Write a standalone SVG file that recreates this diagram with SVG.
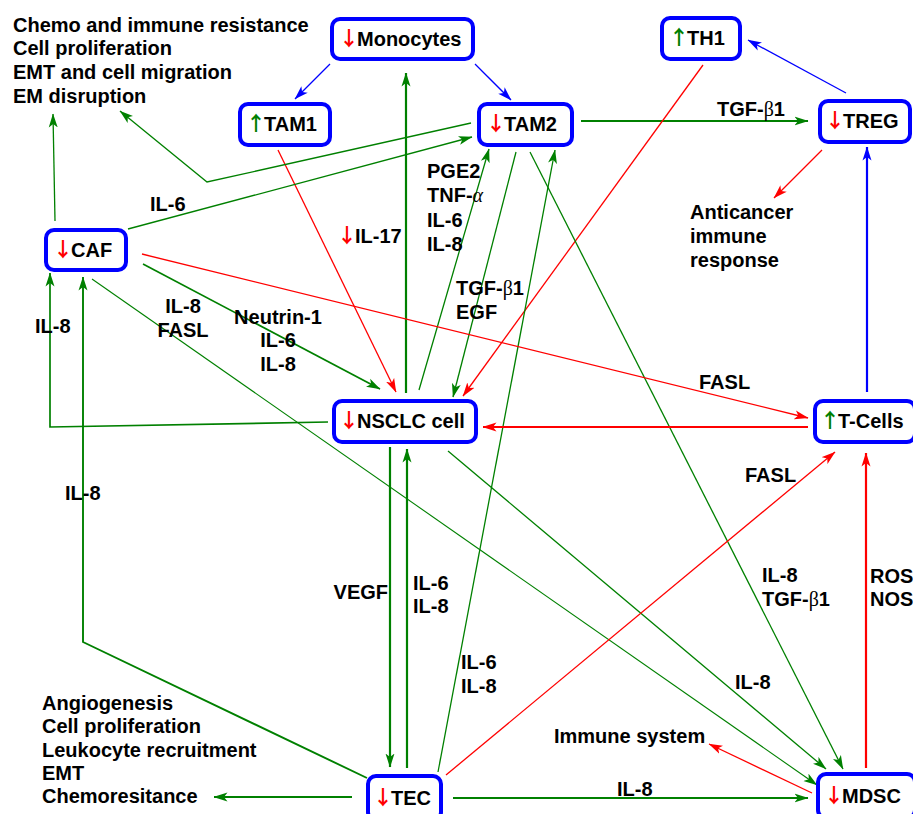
<svg xmlns="http://www.w3.org/2000/svg" width="913" height="814" viewBox="0 0 913 814">
<style>
.n{fill:#fff;stroke:#0000ff;stroke-width:4}
.t{font-family:"Liberation Sans",Arial,sans-serif;font-size:20px;font-weight:bold;fill:#000}
.m{text-anchor:middle}
.e{text-anchor:end}
.dn{fill:#ff0000;font-family:"Noto Sans CJK SC","DejaVu Sans",sans-serif}
.up{fill:#008000;font-family:"Noto Sans CJK SC","DejaVu Sans",sans-serif}
.gr{font-family:"Liberation Serif",serif;font-weight:normal}
.g{stroke:#008000;fill:none;stroke-width:1.3}
.gt{stroke:#008000;fill:none;stroke-width:2.2}
.r{stroke:#ff0000;fill:none;stroke-width:1.3}
.rt{stroke:#ff0000;fill:none;stroke-width:2.2}
.b{stroke:#0000ff;fill:none;stroke-width:1.3}
.bt{stroke:#0000ff;fill:none;stroke-width:2.2}
.mg{marker-end:url(#ag)}
.mr{marker-end:url(#ar)}
.mb{marker-end:url(#ab)}
</style>
<defs>
<marker id="ag" markerUnits="userSpaceOnUse" markerWidth="14" markerHeight="10" viewBox="0 0 14 10" refX="13.5" refY="5" orient="auto"><path d="M0,0.5 L14,5 L0,9.5 L3.5,5 z" fill="#008000"/></marker>
<marker id="ar" markerUnits="userSpaceOnUse" markerWidth="14" markerHeight="10" viewBox="0 0 14 10" refX="13.5" refY="5" orient="auto"><path d="M0,0.5 L14,5 L0,9.5 L3.5,5 z" fill="#ff0000"/></marker>
<marker id="ab" markerUnits="userSpaceOnUse" markerWidth="14" markerHeight="10" viewBox="0 0 14 10" refX="13.5" refY="5" orient="auto"><path d="M0,0.5 L14,5 L0,9.5 L3.5,5 z" fill="#0000ff"/></marker>
</defs>
<rect width="913" height="814" fill="#fff"/>

<g id="connectors">
<line class="b mb" x1="330" y1="64" x2="295" y2="99"/>
<line class="b mb" x1="475" y1="64" x2="511" y2="100"/>
<line class="b mb" x1="846" y1="93" x2="748" y2="40"/>
<line class="bt mb" x1="867" y1="392" x2="867" y2="147"/>
<line class="gt mg" x1="581" y1="121" x2="808" y2="121"/>
<line class="r mr" x1="822" y1="150" x2="774" y2="198"/>
<line class="r mr" x1="703" y1="65" x2="463" y2="396"/>
<line class="r mr" x1="278" y1="150" x2="396" y2="392"/>
<line class="gt mg" x1="406" y1="393" x2="406" y2="73"/>
<line class="g mg" x1="419" y1="390" x2="489" y2="149"/>
<line class="g mg" x1="516" y1="152" x2="453" y2="397"/>
<line class="g mg" x1="438" y1="772" x2="555" y2="150"/>
<line class="g mg" x1="530" y1="152" x2="843" y2="769"/>
<polyline class="g mg" points="471,123 207,182 120,111"/>
<line class="g mg" x1="128" y1="229" x2="472" y2="137"/>
<line class="g mg" x1="55" y1="221" x2="53" y2="114"/>
<line class="r mr" x1="142" y1="254" x2="808" y2="418"/>
<line class="g mg" x1="143" y1="264" x2="380" y2="389" style="stroke-width:1.7"/>
<line class="g mg" x1="92" y1="279" x2="817" y2="785" style="stroke-width:1.1"/>
<line class="g mg" x1="448" y1="451" x2="826" y2="769"/>
<polyline class="g mg" points="328,422 50,427 50,273" style="stroke-width:1.7"/>
<polyline class="g mg" points="367,778 83,642 83,277" style="stroke-width:1.9"/>
<line class="gt mg" x1="390" y1="447" x2="390" y2="767"/>
<line class="gt mg" x1="407" y1="768" x2="407" y2="449"/>
<line class="rt mr" x1="808" y1="427" x2="483" y2="427"/>
<line class="r mr" x1="446" y1="775" x2="835" y2="452"/>
<line class="rt mr" x1="866" y1="768" x2="866" y2="453"/>
<line class="r mr" x1="812" y1="793" x2="709" y2="744"/>
<line class="gt mg" x1="453" y1="798" x2="808" y2="798"/>
<line class="gt mg" x1="352" y1="797" x2="214" y2="797"/>
</g>

<g id="labels">
<text class="t" x="13" y="32">Chemo and immune resistance</text>
<text class="t" x="13" y="55">Cell proliferation</text>
<text class="t" x="13" y="79">EMT and cell migration</text>
<text class="t" x="13" y="103">EM disruption</text>
<text class="t" x="690" y="219">Anticancer</text>
<text class="t" x="690" y="243">immune</text>
<text class="t" x="690" y="267">response</text>
<text class="t" x="42" y="710">Angiogenesis</text>
<text class="t" x="42" y="733">Cell proliferation</text>
<text class="t" x="42" y="757">Leukocyte recruitment</text>
<text class="t" x="42" y="780">EMT</text>
<text class="t" x="42" y="803">Chemoresitance</text>
<text class="t" x="554" y="743">Immune system</text>
<text class="t" x="717" y="116">TGF-<tspan class="gr">β</tspan>1</text>
<text class="t" x="337" y="243"><tspan class="dn">↓</tspan><tspan dx="-2">IL-17</tspan></text>
<text class="t" x="427" y="178">PGE2</text>
<text class="t" x="427" y="202">TNF-<tspan class="gr" font-style="italic">α</tspan></text>
<text class="t" x="427" y="227">IL-6</text>
<text class="t" x="427" y="251">IL-8</text>
<text class="t" x="456" y="295">TGF-<tspan class="gr">β</tspan>1</text>
<text class="t" x="456" y="319">EGF</text>
<text class="t" x="150" y="211">IL-6</text>
<text class="t m" x="183" y="313">IL-8</text>
<text class="t m" x="183" y="337">FASL</text>
<text class="t m" x="278" y="324">Neutrin-1</text>
<text class="t m" x="278" y="347">IL-6</text>
<text class="t m" x="278" y="371">IL-8</text>
<text class="t" x="35" y="333">IL-8</text>
<text class="t" x="65" y="500">IL-8</text>
<text class="t" x="699" y="389">FASL</text>
<text class="t" x="745" y="482">FASL</text>
<text class="t e" x="388" y="599">VEGF</text>
<text class="t" x="413" y="590">IL-6</text>
<text class="t" x="413" y="613">IL-8</text>
<text class="t" x="461" y="669">IL-6</text>
<text class="t" x="461" y="693">IL-8</text>
<text class="t" x="762" y="582">IL-8</text>
<text class="t" x="762" y="606">TGF-<tspan class="gr">β</tspan>1</text>
<text class="t" x="735" y="689">IL-8</text>
<text class="t" x="870" y="583">ROS</text>
<text class="t" x="870" y="606">NOS</text>
<text class="t" x="617" y="796">IL-8</text>
</g>

<g id="monocytes"><rect class="n" x="332" y="19" width="141" height="40" rx="8"/><text class="t" x="339" y="46"><tspan class="dn">↓</tspan><tspan dx="-2">Monocytes</tspan></text></g>
<g id="tam1"><rect class="n" x="240" y="104" width="90" height="41" rx="8"/><text class="t" x="246" y="131"><tspan class="up">↑</tspan><tspan dx="-2">TAM1</tspan></text></g>
<g id="tam2"><rect class="n" x="479" y="104" width="93" height="41" rx="8"/><text class="t" x="486" y="131"><tspan class="dn">↓</tspan><tspan dx="-2">TAM2</tspan></text></g>
<g id="th1"><rect class="n" x="662" y="18" width="78" height="41" rx="8"/><text class="t" x="669" y="45"><tspan class="up">↑</tspan><tspan dx="-2">TH1</tspan></text></g>
<g id="treg"><rect class="n" x="820" y="101" width="90" height="41" rx="8"/><text class="t" x="825" y="128"><tspan class="dn">↓</tspan><tspan dx="-2">TREG</tspan></text></g>
<g id="caf"><rect class="n" x="46" y="230" width="80" height="40" rx="8"/><text class="t" x="53" y="257"><tspan class="dn">↓</tspan><tspan dx="-2">CAF</tspan></text></g>
<g id="nsclc"><rect class="n" x="334" y="401" width="142" height="41" rx="8"/><text class="t" x="339" y="428"><tspan class="dn">↓</tspan><tspan dx="-2">NSCLC cell</tspan></text></g>
<g id="tcells"><rect class="n" x="815" y="401" width="100" height="41" rx="8"/><text class="t" x="820" y="428"><tspan class="up">↑</tspan><tspan dx="-2">T-Cells</tspan></text></g>
<g id="tec"><rect class="n" x="368" y="776" width="73" height="44" rx="8"/><text class="t" x="373" y="805"><tspan class="dn">↓</tspan><tspan dx="-2">TEC</tspan></text></g>
<g id="mdsc"><rect class="n" x="818" y="774" width="97" height="44" rx="8"/><text class="t" x="824" y="803"><tspan class="dn">↓</tspan><tspan dx="-2">MDSC</tspan></text></g>
</svg>
